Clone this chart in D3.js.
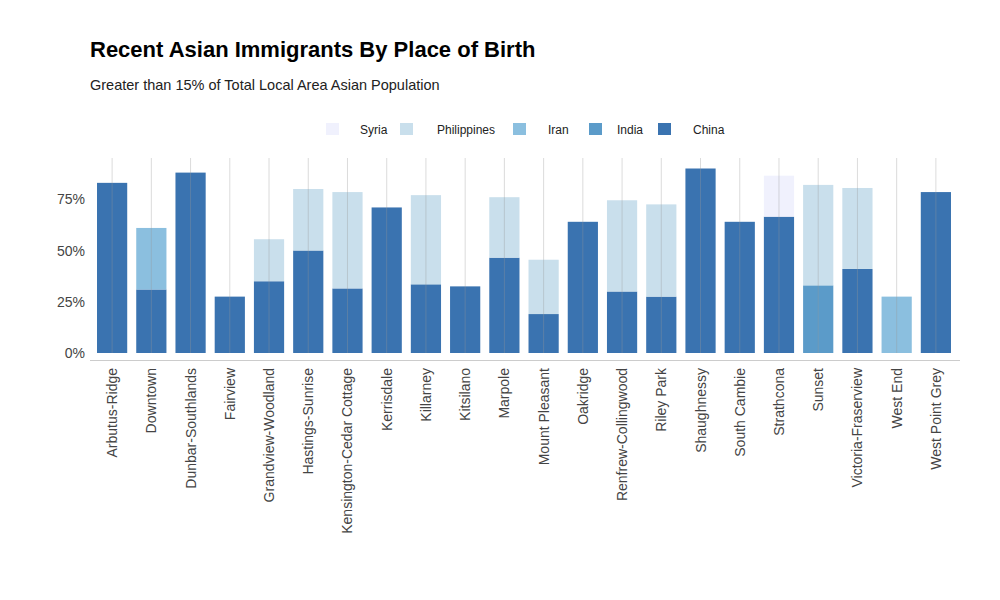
<!DOCTYPE html>
<html><head><meta charset="utf-8">
<script src="https://cdn.jsdelivr.net/npm/d3@7"></script>
<style>body{margin:0;background:#fff;font-family:Arial,"Liberation Sans",sans-serif}</style>
</head><body><svg id="c" width="1000" height="600"></svg>
<script>
var areas = ["Arbutus-Ridge","Downtown","Dunbar-Southlands","Fairview","Grandview-Woodland","Hastings-Sunrise","Kensington-Cedar Cottage","Kerrisdale","Killarney","Kitsilano","Marpole","Mount Pleasant","Oakridge","Renfrew-Collingwood","Riley Park","Shaughnessy","South Cambie","Strathcona","Sunset","Victoria-Fraserview","West End","West Point Grey"];
var china       = [83,31,88,27.5,35,50,31.5,71,33.5,32.5,46.5,19,64,30,27.5,90,64,66.5,0,41,0,78.5];
var india       = [0,0,0,0,0,0,0,0,0,0,0,0,0,0,0,0,0,0,33,0,0,0];
var iran        = [0,30,0,0,0,0,0,0,0,0,0,0,0,0,0,0,0,0,0,0,27.5,0];
var philippines = [0,0,0,0,20.5,30,47,0,43.5,0,29.5,26.5,0,44.5,45,0,0,0,49,39.5,0,0];
var syria       = [0,0,0,0,0,0,0,0,0,0,0,0,0,0,0,0,0,20,0,0,0,0];
var yTicks = [0,25,50,75];

var keys = ["China","India","Iran","Philippines","Syria"];
var colors = {China:"#3a73b0",India:"#5b9bc9",Iran:"#8bbfdf",Philippines:"#c9dfec",Syria:"#f0f1fd"};
var rows = areas.map(function(a,i){
  return {area:a,China:china[i],India:india[i],Iran:iran[i],Philippines:philippines[i],Syria:syria[i]};
});

var svg = d3.select("#c");
var x = d3.scaleBand().domain(areas).range([92.5,955.5]).paddingInner(0.23).paddingOuter(0.115);
var y = d3.scaleLinear().domain([0,100]).range([353,148]);

svg.append("text").attr("x",90).attr("y",57).attr("font-size",22).attr("font-weight","bold").text("Recent Asian Immigrants By Place of Birth");
svg.append("text").attr("x",90).attr("y",90).attr("font-size",14.5).attr("fill","#222").text("Greater than 15% of Total Local Area Asian Population");

var stack = d3.stack().keys(keys)(rows);
svg.append("g").selectAll("g").data(stack).join("g")
  .attr("fill",function(d){return colors[d.key];})
  .selectAll("rect").data(function(d){return d;}).join("rect")
  .attr("x",function(d){return x(d.data.area);})
  .attr("width",x.bandwidth())
  .attr("y",function(d){return y(d[1]);})
  .attr("height",function(d){return y(d[0])-y(d[1]);});

// vertical grid lines, faintly visible through bars
svg.append("g").selectAll("line").data(areas).join("line")
  .attr("x1",function(d){return x(d)+x.bandwidth()/2;}).attr("x2",function(d){return x(d)+x.bandwidth()/2;})
  .attr("y1",158).attr("y2",353).attr("stroke","#999").attr("stroke-opacity",0.35);

svg.append("line").attr("x1",90).attr("x2",960).attr("y1",360.5).attr("y2",360.5).attr("stroke","#ccc");

svg.append("g").selectAll("text").data(yTicks).join("text")
  .attr("x",85).attr("y",function(d){return y(d)+5;}).attr("text-anchor","end")
  .attr("font-size",14).attr("fill","#444").text(function(d){return d+"%";});

svg.append("g").selectAll("text").data(areas).join("text")
  .attr("transform",function(d){return "translate("+(x(d)+x.bandwidth()/2+5)+",368) rotate(-90)";})
  .attr("text-anchor","end").attr("font-size",14).attr("fill","#444").text(function(d){return d;});

var legend = [["Syria",326,360],["Philippines",400,437],["Iran",513,548],["India",589,617],["China",658,693]];
var lg = svg.append("g").selectAll("g").data(legend).join("g");
lg.append("rect").attr("x",function(d){return d[1];}).attr("y",123).attr("width",13).attr("height",12)
  .attr("fill",function(d){return colors[d[0]];});
lg.append("text").attr("x",function(d){return d[2];}).attr("y",134).attr("font-size",12).attr("fill","#222").text(function(d){return d[0];});
</script></body></html>
